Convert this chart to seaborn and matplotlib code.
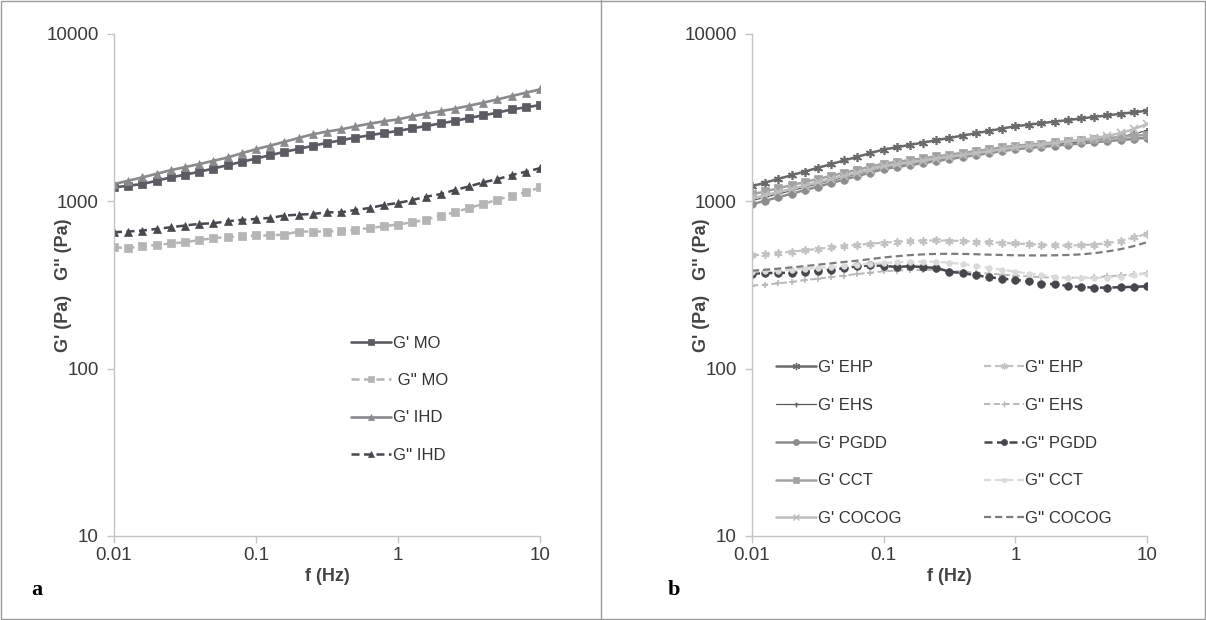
import numpy as np
import pandas as pd
import matplotlib
matplotlib.use("Agg")
import matplotlib.pyplot as plt
from matplotlib.lines import Line2D
from matplotlib.patches import Rectangle
import seaborn as sns

# ---------------- data ----------------
freq = [0.01, 0.0126, 0.0158, 0.02, 0.0251, 0.0316, 0.0398, 0.0501, 0.0631, 0.0794,
        0.1, 0.126, 0.158, 0.2, 0.251, 0.316, 0.398, 0.501, 0.631, 0.794,
        1.0, 1.26, 1.58, 2.0, 2.51, 3.16, 3.98, 5.01, 6.31, 7.94, 10.0]

# panel a
g1_mo = [1211, 1240, 1268, 1328, 1390, 1442, 1502, 1571, 1645, 1722, 1802, 1887, 1975, 2059, 2145,
         2235, 2318, 2404, 2481, 2562, 2633, 2730, 2820, 2923, 3020, 3150, 3264, 3386, 3543, 3643, 3761]
g2_mo = [532, 525, 540, 549, 560, 570, 586, 603, 612, 617, 625, 625, 633, 660, 660,
         660, 666, 678, 691, 710, 727, 750, 778, 822, 860, 912, 964, 1023, 1081, 1131, 1211]
g1_ihd = [1268, 1328, 1390, 1461, 1536, 1601, 1670, 1746, 1828, 1939, 2049, 2154, 2265, 2394, 2516,
          2611, 2693, 2805, 2911, 3005, 3090, 3222, 3339, 3460, 3576, 3725, 3885, 4066, 4258, 4457, 4666]
g2_ihd = [654, 660, 669, 684, 700, 717, 733, 740, 760, 774, 785, 796, 822, 833, 840,
          860, 860, 888, 912, 951, 977, 1018, 1066, 1105, 1168, 1228, 1298, 1357, 1434, 1502, 1578]

# panel b
g1_ehp = [1230, 1294, 1361, 1432, 1507, 1585, 1668, 1755, 1846, 1942, 2040, 2106, 2175, 2245, 2318,
          2394, 2471, 2552, 2635, 2721, 2810, 2871, 2933, 2996, 3061, 3127, 3195, 3264, 3334, 3406, 3480]
g1_ehs = [1010, 1058, 1107, 1159, 1214, 1271, 1331, 1393, 1459, 1528, 1600, 1643, 1686, 1731, 1777,
          1825, 1873, 1923, 1974, 2027, 2080, 2115, 2150, 2190, 2230, 2270, 2315, 2365, 2430, 2530, 2650]
g1_pgdd = [960, 1008, 1058, 1111, 1166, 1224, 1285, 1349, 1416, 1486, 1560, 1603, 1648, 1693, 1740,
           1788, 1838, 1889, 1941, 1995, 2050, 2083, 2116, 2149, 2184, 2218, 2254, 2290, 2326, 2363, 2400]
g1_cct = [1100, 1148, 1197, 1249, 1303, 1360, 1419, 1480, 1544, 1611, 1680, 1722, 1765, 1809, 1854,
          1901, 1948, 1997, 2047, 2098, 2150, 2183, 2216, 2250, 2284, 2319, 2354, 2390, 2426, 2463, 2500]
g1_cocog = [1040, 1087, 1136, 1188, 1241, 1298, 1356, 1418, 1482, 1549, 1620, 1663, 1706, 1751, 1797,
            1845, 1893, 1943, 1994, 2046, 2100, 2140, 2185, 2230, 2280, 2330, 2390, 2460, 2560, 2700, 2900]
g2_ehp = [475, 482, 490, 500, 510, 520, 530, 540, 550, 558, 566, 573, 579, 583, 584,
          582, 579, 575, 570, 565, 560, 555, 550, 546, 545, 547, 552, 562, 580, 608, 640]
g2_ehs = [314, 318, 323, 330, 338, 345, 352, 360, 368, 375, 382, 386, 388, 389, 388,
          385, 380, 375, 370, 365, 360, 356, 352, 350, 349, 350, 352, 356, 361, 366, 372]
g2_pgdd = [370, 372, 375, 372, 380, 385, 390, 398, 410, 414, 412, 405, 410, 404, 400,
           380, 372, 362, 352, 345, 340, 332, 322, 320, 312, 308, 305, 305, 307, 308, 311]
g2_cct = [380, 383, 386, 390, 395, 400, 405, 412, 418, 424, 428, 432, 435, 436, 435,
          430, 422, 412, 400, 390, 380, 370, 362, 355, 350, 348, 348, 350, 355, 362, 370]
g2_cocog = [385, 390, 396, 403, 410, 418, 426, 434, 442, 452, 462, 470, 477, 482, 485,
            486, 485, 483, 480, 478, 476, 475, 475, 476, 478, 482, 490, 502, 518, 540, 570]

labels_a = ["G' MO", " G'' MO", "G' IHD", "G'' IHD"]
labels_b = ["G' EHP", "G' EHS", "G' PGDD", "G' CCT", "G' COCOG",
            "G'' EHP", "G'' EHS", "G'' PGDD", "G'' CCT", "G'' COCOG"]
yticks = [10, 100, 1000, 10000]
ytick_labels = ["10", "100", "1000", "10000"]
xticks = [0.01, 0.1, 1, 10]
xtick_labels = ["0.01", "0.1", "1", "10"]

# ---------------- style ----------------
sns.set_theme(style="white")
plt.rcParams['font.family'] = ['Liberation Sans', 'DejaVu Sans']

fig = plt.figure(figsize=(12.06, 6.2), dpi=100)
W, H = 1206, 620

def fx(px):
    return px / W

def fy(py):
    return 1 - py / H

ax_a = fig.add_axes([fx(114), fy(536), fx(540) - fx(114), fy(34) - fy(536)])
ax_b = fig.add_axes([fx(752), fy(536), fx(1147) - fx(752), fy(34) - fy(536)])

DASH = (0, (3.2, 1.8))

series_a = [
    (g1_mo, labels_a[0], "#5b5b63", "s", "-", 1.9, 6.2),
    (g2_mo, labels_a[1], "#b5b5b5", "s", DASH, 1.8, 6.2),
    (g1_ihd, labels_a[2], "#8a8a8e", "^", "-", 1.9, 6.2),
    (g2_ihd, labels_a[3], "#48484f", "^", DASH, 1.8, 6.2),
]
ast = (6, 2, 0)
series_b = [
    (g1_ehp, labels_b[0], "#6a6a6a", ast, "-", 1.8, 6.5),
    (g1_ehs, labels_b[1], "#5a5a5a", "+", "-", 0.9, 4.5),
    (g1_pgdd, labels_b[2], "#8c8c8c", "o", "-", 1.8, 5.5),
    (g1_cct, labels_b[3], "#a2a2a2", "s", "-", 1.8, 5.5),
    (g1_cocog, labels_b[4], "#bdbdbd", "x", "-", 1.8, 5.5),
    (g2_ehp, labels_b[5], "#c2c2c2", ast, DASH, 1.6, 6.0),
    (g2_ehs, labels_b[6], "#b8b8b8", "+", DASH, 1.4, 5.0),
    (g2_pgdd, labels_b[7], "#46464d", "o", DASH, 1.8, 5.5),
    (g2_cct, labels_b[8], "#dadada", "o", DASH, 1.6, 4.0),
    (g2_cocog, labels_b[9], "#7c7c7c", None, DASH, 1.6, 0),
]

def draw(ax, series, ylab_x):
    handles = []
    for vals, lab, col, mk, ls, lw, ms in series:
        df = pd.DataFrame({"f": freq, "G": vals})
        kw = dict(color=col, linestyle=ls, linewidth=lw)
        if mk is not None:
            kw.update(marker=mk, markersize=ms, markeredgecolor=col, markerfacecolor=col,
                      markeredgewidth=1.2 if mk in ("+", "x", ast) else 0.5)
        sns.lineplot(data=df, x="f", y="G", ax=ax, legend=False, **kw)
        hkw = dict(color=col, linestyle=ls, linewidth=lw)
        if mk is not None:
            hkw.update(marker=mk, markersize=ms * 0.8, markeredgecolor=col, markerfacecolor=col,
                       markeredgewidth=1.0 if mk in ("+", "x", ast) else 0.5)
        handles.append(Line2D([], [], **hkw))
    ax.set_xscale("log")
    ax.set_yscale("log")
    ax.set_xlim(0.01, 10)
    ax.set_ylim(10, 10000)
    ax.set_xticks(xticks)
    ax.set_xticklabels(xtick_labels)
    ax.set_yticks(yticks)
    ax.set_yticklabels(ytick_labels)
    ax.minorticks_off()
    for s in ["top", "right"]:
        ax.spines[s].set_visible(False)
    for s in ["left", "bottom"]:
        ax.spines[s].set_color("#c4c4c4")
        ax.spines[s].set_linewidth(1.0)
    ax.tick_params(axis="both", which="major", direction="out", length=5, width=1,
                   color="#c4c4c4", labelsize=13.5, labelcolor="#3a3a3a", pad=3,
                   bottom=True, left=True)
    ax.tick_params(axis="y", pad=6)
    ax.set_xlabel("f (Hz)", fontsize=13, fontweight="bold", color="#444444", labelpad=3)
    ax.set_ylabel("G' (Pa)   G'' (Pa)", fontsize=13, fontweight="bold", color="#444444")
    ax.yaxis.label.set_va("center")
    ax.yaxis.set_label_coords(ylab_x, 0.5)
    ax.patch.set_alpha(0)
    return handles

h_a = draw(ax_a, series_a, (64 - 114) / 426)
h_b = draw(ax_b, series_b, (701 - 752) / 395)

ax_a.legend(h_a, labels_a, loc="upper left", bbox_to_anchor=(fx(336), fy(321)),
            bbox_transform=fig.transFigure, frameon=False, fontsize=12,
            labelspacing=1.33, handlelength=2.4, handletextpad=0.1, labelcolor="#333333")

ax_b.legend(h_b, labels_b, ncol=2, loc="upper left",
            bbox_to_anchor=(fx(761), fy(345)), bbox_transform=fig.transFigure,
            frameon=False, fontsize=12, labelspacing=1.37, handlelength=2.4,
            handletextpad=0.1, columnspacing=4.95, labelcolor="#333333")

# panel letters
fig.text(fx(31), fy(590), "a", fontsize=16, fontweight="bold", family="Liberation Serif",
         va="center", ha="left", color="black")
fig.text(fx(668), fy(590), "b", fontsize=16, fontweight="bold", family="Liberation Serif",
         va="center", ha="left", color="black")

# border and divider
fig.patches.append(Rectangle((0.0008, 0.0015), 0.9984, 0.997, transform=fig.transFigure,
                             fill=False, edgecolor="#9a9a9a", linewidth=1.0))
fig.add_artist(Line2D([fx(601), fx(601)], [0, 1], transform=fig.transFigure,
                      color="#9a9a9a", linewidth=1.0))

fig.savefig("out.png", dpi=100, facecolor="white")
